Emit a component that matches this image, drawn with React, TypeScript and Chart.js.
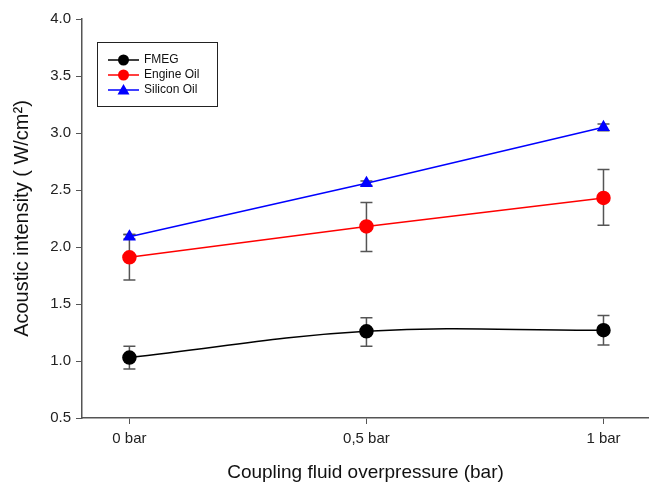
import React, { useEffect, useRef } from "react";
import { Chart, registerables } from "chart.js";

Chart.register(...registerables);

const xPositions = [0, 0.5, 1];
const xTickLabels = ["0 bar", "0,5 bar", "1 bar"];

const fmegValues = [1.03, 1.26, 1.27];
const fmegLow = [0.93, 1.13, 1.14];
const fmegHigh = [1.13, 1.38, 1.40];

const engineValues = [1.91, 2.18, 2.43];
const engineLow = [1.71, 1.96, 2.19];
const engineHigh = [2.11, 2.39, 2.68];

const siliconValues = [2.09, 2.56, 3.05];
const siliconLow = [2.07, 2.54, 3.02];
const siliconHigh = [2.11, 2.58, 3.08];

const FONT = "'Liberation Sans', Arial, sans-serif";

const errorBarPlugin = {
  id: "errorBars",
  beforeDatasetsDraw(chart: any) {
    const { ctx, scales } = chart;
    const xs = scales.x;
    const ys = scales.y;
    ctx.save();
    ctx.strokeStyle = "#555555";
    ctx.lineWidth = 1.5;
    chart.data.datasets.forEach((ds: any) => {
      const lo = ds.errLow as number[];
      const hi = ds.errHigh as number[];
      ds.data.forEach((p: any, i: number) => {
        const x = xs.getPixelForValue(p.x);
        const y1 = ys.getPixelForValue(lo[i]);
        const y2 = ys.getPixelForValue(hi[i]);
        ctx.beginPath();
        ctx.moveTo(x, y1);
        ctx.lineTo(x, y2);
        ctx.moveTo(x - 6, y1);
        ctx.lineTo(x + 6, y1);
        ctx.moveTo(x - 6, y2);
        ctx.lineTo(x + 6, y2);
        ctx.stroke();
      });
    });
    ctx.restore();
  },
};

const legendPlugin = {
  id: "boxLegend",
  afterDraw(chart: any) {
    const { ctx } = chart;
    ctx.save();
    ctx.strokeStyle = "#222";
    ctx.lineWidth = 1;
    ctx.strokeRect(97.5, 42.5, 120, 64);
    ctx.font = `12px ${FONT}`;
    ctx.textBaseline = "middle";
    chart.data.datasets.forEach((ds: any, i: number) => {
      const y = 60 + i * 15;
      ctx.strokeStyle = ds.borderColor;
      ctx.lineWidth = 1.5;
      ctx.beginPath();
      ctx.moveTo(108, y);
      ctx.lineTo(139, y);
      ctx.stroke();
      ctx.fillStyle = ds.backgroundColor;
      ctx.beginPath();
      if (ds.pointStyle === "triangle") {
        ctx.moveTo(123.5, y - 6);
        ctx.lineTo(129.5, y + 4.5);
        ctx.lineTo(117.5, y + 4.5);
        ctx.closePath();
      } else {
        ctx.arc(123.5, y, 5.5, 0, Math.PI * 2);
      }
      ctx.fill();
      ctx.fillStyle = "#111";
      ctx.fillText(ds.label, 144, y);
    });
    ctx.restore();
  },
};

function toPoints(vals: number[]) {
  return vals.map((v, i) => ({ x: xPositions[i], y: v }));
}

export default function App() {
  const ref = useRef<HTMLCanvasElement>(null);
  useEffect(() => {
    const chart = new Chart(ref.current!, {
      type: "line",
      data: {
        datasets: [
          {
            label: "FMEG",
            data: toPoints(fmegValues),
            errLow: fmegLow,
            errHigh: fmegHigh,
            borderColor: "#000000",
            backgroundColor: "#000000",
            pointStyle: "circle",
            pointRadius: 6.5,
            borderWidth: 1.5,
            tension: 0.4,
          } as any,
          {
            label: "Engine Oil",
            data: toPoints(engineValues),
            errLow: engineLow,
            errHigh: engineHigh,
            borderColor: "#ff0000",
            backgroundColor: "#ff0000",
            pointStyle: "circle",
            pointRadius: 6.5,
            borderWidth: 1.5,
          } as any,
          {
            label: "Silicon Oil",
            data: toPoints(siliconValues),
            errLow: siliconLow,
            errHigh: siliconHigh,
            borderColor: "#0000ff",
            backgroundColor: "#0000ff",
            pointStyle: "triangle",
            pointRadius: 6,
            borderWidth: 1.5,
          } as any,
        ],
      },
      options: {
        animation: false,
        responsive: false,
        layout: { autoPadding: false, padding: { top: 19, right: 0, left: 0, bottom: 0 } },
        plugins: { legend: { display: false }, tooltip: { enabled: false } },
        elements: { point: { borderWidth: 0 } },
        scales: {
          x: {
            type: "linear",
            min: -0.1,
            max: 1.096,
            afterBuildTicks: (s: any) => {
              s.ticks = xPositions.map((v) => ({ value: v }));
            },
            afterFit: (s: any) => {
              s.height = 64;
              s.paddingRight = 0;
              s.paddingLeft = 0;
            },
            ticks: {
              callback: (v: any) => xTickLabels[xPositions.indexOf(Number(v))] ?? "",
              color: "#222",
              font: { family: FONT, size: 15 },
              padding: 6,
              maxRotation: 0,
            },
            grid: { drawOnChartArea: false, drawTicks: true, tickLength: 6, color: "#555" },
            border: { display: true, color: "#555", width: 1.5 },
            title: {
              display: true,
              text: "Coupling fluid overpressure (bar)",
              color: "#111",
              font: { family: FONT, size: 19 },
              padding: { top: 0, bottom: -2 },
            },
          },
          y: {
            min: 0.5,
            max: 4.0,
            afterFit: (s: any) => {
              s.width = 82;
            },
            ticks: {
              stepSize: 0.5,
              callback: (v: any) => Number(v).toFixed(1),
              color: "#222",
              font: { family: FONT, size: 15 },
              padding: 5,
            },
            grid: { drawOnChartArea: false, drawTicks: true, tickLength: 6, color: "#555" },
            border: { display: true, color: "#555", width: 1.5 },
            title: {
              display: true,
              text: "Acoustic intensity ( W/cm²)",
              color: "#111",
              font: { family: FONT, size: 20 },
              padding: { top: 10, bottom: 0 },
            },
          },
        },
      },
      plugins: [errorBarPlugin, legendPlugin],
    } as any);
    return () => chart.destroy();
  }, []);
  return (
    <div style={{ position: "fixed", left: 0, top: 0, width: 649, height: 482, background: "#fff" }}>
      <canvas ref={ref} width={649} height={482} style={{ width: 649, height: 482 }} />
    </div>
  );
}
